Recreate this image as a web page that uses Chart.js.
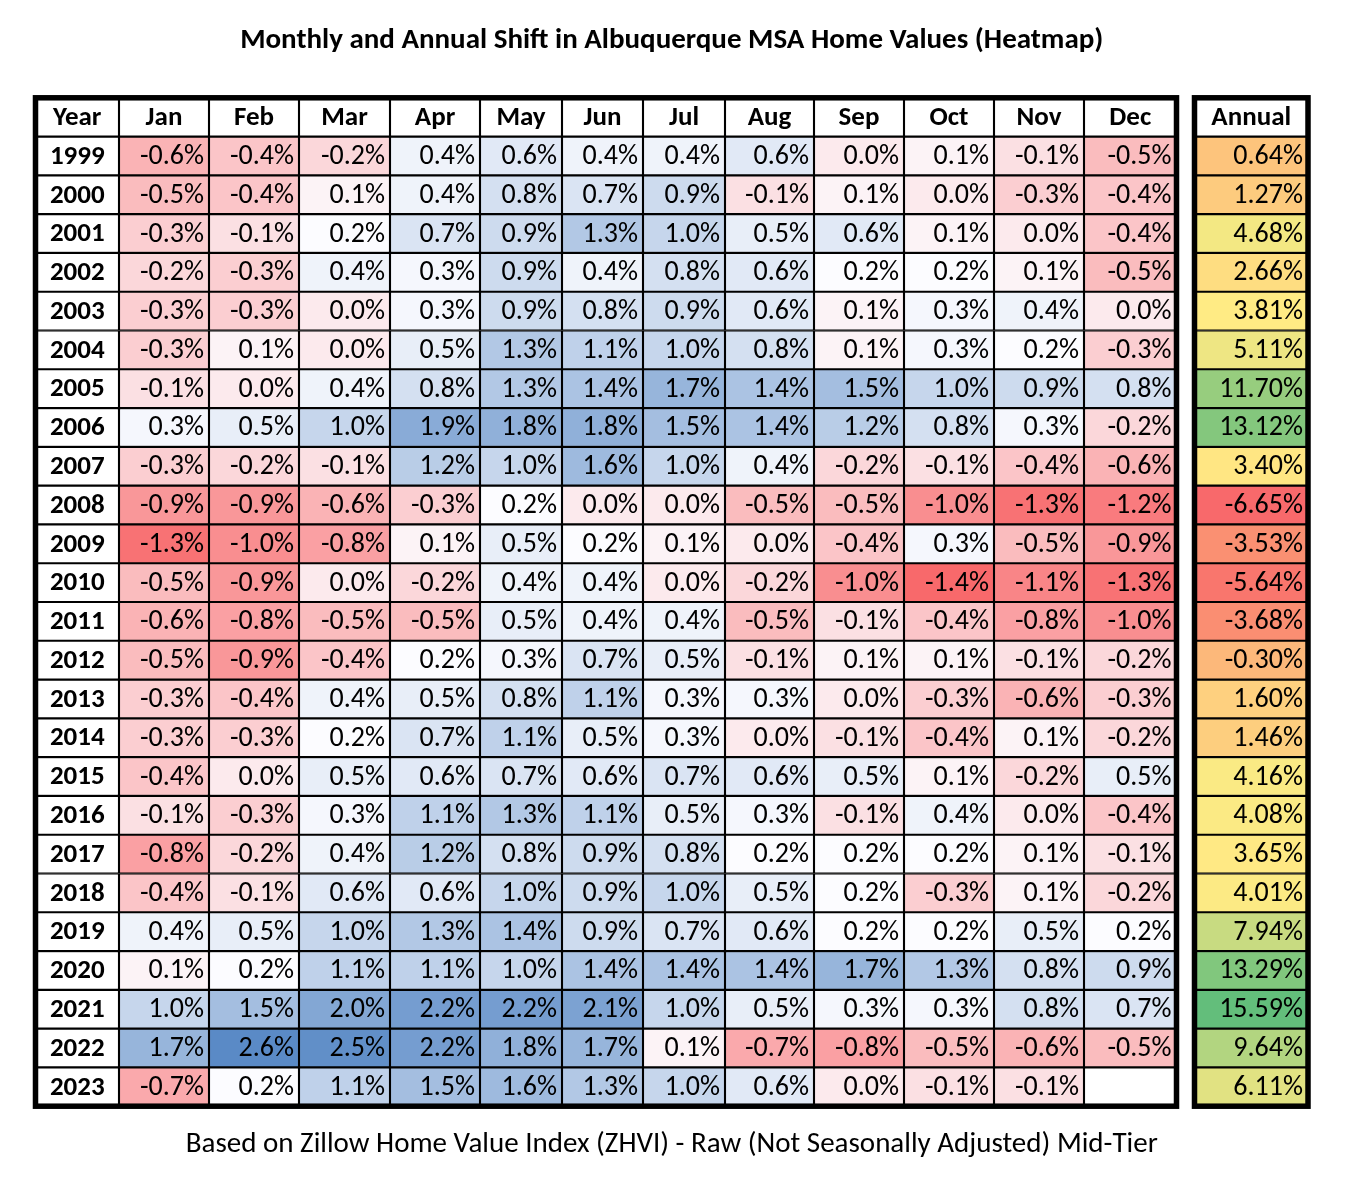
<!DOCTYPE html>
<html>
<head>
<meta charset="utf-8">
<title>Albuquerque MSA Home Values Heatmap</title>
<script src="https://cdn.jsdelivr.net/npm/chart.js@4.4.1/dist/chart.umd.min.js"></script>
<style>
  html, body { margin: 0; padding: 0; background: #fff; }
</style>
</head>
<body>
<canvas id="heatmap" width="1347" height="1191"></canvas>
<script>
const years = [1999, 2000, 2001, 2002, 2003, 2004, 2005, 2006, 2007, 2008, 2009, 2010, 2011,
               2012, 2013, 2014, 2015, 2016, 2017, 2018, 2019, 2020, 2021, 2022, 2023];
const months = ['Jan', 'Feb', 'Mar', 'Apr', 'May', 'Jun', 'Jul', 'Aug', 'Sep', 'Oct', 'Nov', 'Dec'];

// monthly change in %, one row per year (Jan..Dec)
const monthlyShift = [
  [-0.6, -0.4, -0.2, 0.4, 0.6, 0.4, 0.4, 0.6, 0.0, 0.1, -0.1, -0.5],   // 1999
  [-0.5, -0.4, 0.1, 0.4, 0.8, 0.7, 0.9, -0.1, 0.1, 0.0, -0.3, -0.4],   // 2000
  [-0.3, -0.1, 0.2, 0.7, 0.9, 1.3, 1.0, 0.5, 0.6, 0.1, 0.0, -0.4],     // 2001
  [-0.2, -0.3, 0.4, 0.3, 0.9, 0.4, 0.8, 0.6, 0.2, 0.2, 0.1, -0.5],     // 2002
  [-0.3, -0.3, 0.0, 0.3, 0.9, 0.8, 0.9, 0.6, 0.1, 0.3, 0.4, 0.0],      // 2003
  [-0.3, 0.1, 0.0, 0.5, 1.3, 1.1, 1.0, 0.8, 0.1, 0.3, 0.2, -0.3],      // 2004
  [-0.1, 0.0, 0.4, 0.8, 1.3, 1.4, 1.7, 1.4, 1.5, 1.0, 0.9, 0.8],       // 2005
  [0.3, 0.5, 1.0, 1.9, 1.8, 1.8, 1.5, 1.4, 1.2, 0.8, 0.3, -0.2],       // 2006
  [-0.3, -0.2, -0.1, 1.2, 1.0, 1.6, 1.0, 0.4, -0.2, -0.1, -0.4, -0.6], // 2007
  [-0.9, -0.9, -0.6, -0.3, 0.2, 0.0, 0.0, -0.5, -0.5, -1.0, -1.3, -1.2], // 2008
  [-1.3, -1.0, -0.8, 0.1, 0.5, 0.2, 0.1, 0.0, -0.4, 0.3, -0.5, -0.9],  // 2009
  [-0.5, -0.9, 0.0, -0.2, 0.4, 0.4, 0.0, -0.2, -1.0, -1.4, -1.1, -1.3], // 2010
  [-0.6, -0.8, -0.5, -0.5, 0.5, 0.4, 0.4, -0.5, -0.1, -0.4, -0.8, -1.0], // 2011
  [-0.5, -0.9, -0.4, 0.2, 0.3, 0.7, 0.5, -0.1, 0.1, 0.1, -0.1, -0.2],  // 2012
  [-0.3, -0.4, 0.4, 0.5, 0.8, 1.1, 0.3, 0.3, 0.0, -0.3, -0.6, -0.3],   // 2013
  [-0.3, -0.3, 0.2, 0.7, 1.1, 0.5, 0.3, 0.0, -0.1, -0.4, 0.1, -0.2],   // 2014
  [-0.4, 0.0, 0.5, 0.6, 0.7, 0.6, 0.7, 0.6, 0.5, 0.1, -0.2, 0.5],      // 2015
  [-0.1, -0.3, 0.3, 1.1, 1.3, 1.1, 0.5, 0.3, -0.1, 0.4, 0.0, -0.4],    // 2016
  [-0.8, -0.2, 0.4, 1.2, 0.8, 0.9, 0.8, 0.2, 0.2, 0.2, 0.1, -0.1],     // 2017
  [-0.4, -0.1, 0.6, 0.6, 1.0, 0.9, 1.0, 0.5, 0.2, -0.3, 0.1, -0.2],    // 2018
  [0.4, 0.5, 1.0, 1.3, 1.4, 0.9, 0.7, 0.6, 0.2, 0.2, 0.5, 0.2],        // 2019
  [0.1, 0.2, 1.1, 1.1, 1.0, 1.4, 1.4, 1.4, 1.7, 1.3, 0.8, 0.9],        // 2020
  [1.0, 1.5, 2.0, 2.2, 2.2, 2.1, 1.0, 0.5, 0.3, 0.3, 0.8, 0.7],        // 2021
  [1.7, 2.6, 2.5, 2.2, 1.8, 1.7, 0.1, -0.7, -0.8, -0.5, -0.6, -0.5],   // 2022
  [-0.7, 0.2, 1.1, 1.5, 1.6, 1.3, 1.0, 0.6, 0.0, -0.1, -0.1, null]     // 2023
];

const annualShift = [0.64, 1.27, 4.68, 2.66, 3.81, 5.11, 11.70, 13.12, 3.40, -6.65, -3.53, -5.64, -3.68,
                     -0.30, 1.60, 1.46, 4.16, 4.08, 3.65, 4.01, 7.94, 13.29, 15.59, 9.64, 6.11];

// layout: column widths (Year, months, gap, Annual)
const yearColWidth = 83.5;
const monthColWidths = [90, 90, 91, 90, 82, 81, 82, 89, 90, 90, 90, 92.5];
const gapWidth = 18;
const annualColWidth = 113.5;

const cellFont = 'Carlito, Calibri, Lato, sans-serif';

// column edges on the x scale
let edges = [0, yearColWidth];
monthColWidths.forEach(w => edges.push(edges[edges.length - 1] + w));
const mainEnd = edges[edges.length - 1];
const annualStart = mainEnd + gapWidth;
const annualEnd = annualStart + annualColWidth;

// colour scales (Excel style 3-colour, midpoint at median)
function hexToRgb(h) {
  return [parseInt(h.slice(1, 3), 16), parseInt(h.slice(3, 5), 16), parseInt(h.slice(5, 7), 16)];
}
function mix(c1, c2, t) {
  const a = hexToRgb(c1), b = hexToRgb(c2);
  return 'rgb(' + a.map((v, i) => Math.round(v + (b[i] - v) * t)).join(',') + ')';
}
function median(arr) {
  const s = arr.slice().sort((a, b) => a - b);
  const m = Math.floor(s.length / 2);
  return s.length % 2 ? s[m] : (s[m - 1] + s[m]) / 2;
}
function threeColor(v, min, mid, max, cMin, cMid, cMax) {
  if (v <= mid) return mix(cMin, cMid, (v - min) / (mid - min));
  return mix(cMid, cMax, (v - mid) / (max - mid));
}

const allMonthly = monthlyShift.flat().filter(v => v !== null);
const mMin = Math.min(...allMonthly), mMax = Math.max(...allMonthly), mMid = median(allMonthly);
const aMin = Math.min(...annualShift), aMax = Math.max(...annualShift), aMid = median(annualShift);

function monthlyColor(v) {
  if (v === null) return '#ffffff';
  return threeColor(v, mMin, mMid, mMax, '#F8696B', '#FCFCFF', '#5A8AC6');
}
function annualColor(v) {
  return threeColor(v, aMin, aMid, aMax, '#F8696B', '#FFEB84', '#63BE7B');
}

// rows: header + one per year
const rowLabels = ['header'].concat(years.map(String));

// build one dataset per column
const datasets = [];

// Year column
datasets.push({
  data: rowLabels.map(() => [edges[0], edges[1]]),
  cellLabels: ['Year'].concat(years.map(String)),
  cellAlign: 'center',
  cellBold: true,
  backgroundColor: '#ffffff'
});

months.forEach((m, mi) => {
  datasets.push({
    data: rowLabels.map(() => [edges[mi + 1], edges[mi + 2]]),
    cellLabels: [m].concat(monthlyShift.map(r => r[mi] === null ? '' : r[mi].toFixed(1) + '%')),
    cellAlign: 'right',
    backgroundColor: rowLabels.map((r, ri) => ri === 0 ? '#ffffff' : monthlyColor(monthlyShift[ri - 1][mi]))
  });
});

datasets.push({
  data: rowLabels.map(() => [annualStart, annualEnd]),
  cellLabels: ['Annual'].concat(annualShift.map(v => v.toFixed(2) + '%')),
  cellAlign: 'right',
  backgroundColor: rowLabels.map((r, ri) => ri === 0 ? '#ffffff' : annualColor(annualShift[ri - 1]))
});

// text inside every cell
const cellText = {
  id: 'cellText',
  afterDatasetsDraw(chart) {
    const ctx = chart.ctx;
    ctx.save();
    ctx.fillStyle = '#000';
    ctx.textBaseline = 'middle';
    chart.data.datasets.forEach((ds, di) => {
      const meta = chart.getDatasetMeta(di);
      meta.data.forEach((bar, ri) => {
        const label = ds.cellLabels[ri];
        if (!label) return;
        const p = bar.getProps(['x', 'y', 'base'], true);
        const left = Math.min(p.x, p.base), right = Math.max(p.x, p.base);
        const bold = ri === 0 || ds.cellBold;
        ctx.font = bold ? 'bold 27px ' + cellFont : '28px ' + cellFont;
        if (ri === 0 || ds.cellAlign === 'center') {
          ctx.textAlign = 'center';
          ctx.fillText(label, (left + right) / 2, p.y + 1);
        } else {
          ctx.textAlign = 'right';
          ctx.fillText(label, right - 5, p.y + 1);
        }
      });
    });
    ctx.restore();
  }
};

// thick frames round the main table and the annual column
const outerFrames = {
  id: 'outerFrames',
  afterDraw(chart) {
    const ctx = chart.ctx;
    const xs = chart.scales.x, area = chart.chartArea;
    ctx.save();
    ctx.strokeStyle = '#000';
    ctx.lineWidth = 5.5;
    const x0 = xs.getPixelForValue(0), x1 = xs.getPixelForValue(mainEnd);
    const x2 = xs.getPixelForValue(annualStart), x3 = xs.getPixelForValue(annualEnd);
    ctx.strokeRect(x0, area.top, x1 - x0, area.bottom - area.top);
    ctx.strokeRect(x2, area.top, x3 - x2, area.bottom - area.top);
    ctx.restore();
  }
};

new Chart(document.getElementById('heatmap'), {
  type: 'bar',
  data: {
    labels: rowLabels,
    datasets: datasets
  },
  options: {
    indexAxis: 'y',
    responsive: false,
    animation: false,
    events: [],
    layout: {
      padding: { left: 35.5, right: 39, top: 0, bottom: 0 }
    },
    datasets: {
      bar: {
        grouped: false,
        categoryPercentage: 1,
        barPercentage: 1,
        borderWidth: 1.4,
        borderColor: '#000',
        borderSkipped: false
      }
    },
    scales: {
      x: { type: 'linear', min: 0, max: annualEnd, display: false },
      y: { type: 'category', display: false }
    },
    plugins: {
      legend: { display: false },
      tooltip: { enabled: false },
      title: {
        display: true,
        text: 'Monthly and Annual Shift in Albuquerque MSA Home Values (Heatmap)',
        color: '#000',
        font: { family: cellFont, size: 29, weight: 'bold', lineHeight: 1.2 },
        padding: { top: 23, bottom: 40 }
      },
      subtitle: {
        display: true,
        position: 'bottom',
        text: 'Based on Zillow Home Value Index (ZHVI) - Raw (Not Seasonally Adjusted) Mid-Tier',
        color: '#000',
        font: { family: cellFont, size: 29, weight: 'normal', lineHeight: 1.2 },
        padding: { top: 21, bottom: 29 }
      }
    }
  },
  plugins: [cellText, outerFrames]
});
</script>
</body>
</html>
